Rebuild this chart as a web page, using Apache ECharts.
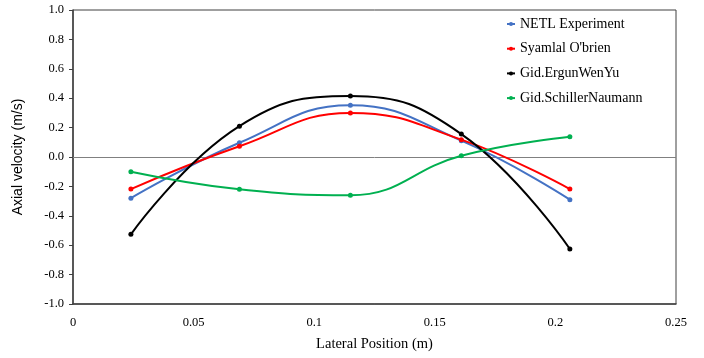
<!DOCTYPE html>
<html>
<head>
<meta charset="utf-8">
<script src="https://cdn.jsdelivr.net/npm/echarts@6/dist/echarts.min.js"></script>
<style>
  html, body { margin: 0; padding: 0; background: #fff; }
  #chart { width: 704px; height: 358px; }
</style>
</head>
<body>
<div id="chart"></div>
<script>
const positions = [0.024, 0.069, 0.115, 0.161, 0.206];
const netlExperiment = [-0.28, 0.097, 0.352, 0.111, -0.29];
const syamlalObrien = [-0.218, 0.073, 0.30, 0.118, -0.218];
const ergunWenYu = [-0.526, 0.21, 0.415, 0.156, -0.626];
const schillerNaumann = [-0.10, -0.22, -0.26, 0.009, 0.138];

const seriesNames = ['NETL Experiment', "Syamlal O'brien", 'Gid.ErgunWenYu', 'Gid.SchillerNaumann'];
const seriesValues = [netlExperiment, syamlalObrien, ergunWenYu, schillerNaumann];
const seriesColors = ['#4472c4', '#ff0000', '#000000', '#00b050'];

const serif = '"Liberation Serif", "DejaVu Serif", serif';

const chart = echarts.init(document.getElementById('chart'));

const series = seriesNames.map((name, i) => ({
  name,
  type: 'line',
  smooth: 0.45,
  data: positions.map((x, j) => [x, seriesValues[i][j]]),
  symbol: 'circle',
  symbolSize: 5,
  itemStyle: { color: seriesColors[i] },
  lineStyle: { width: 2, color: seriesColors[i] },
  z: 3 + i,
}));

// grey zero line across the plot
series[0].markLine = {
  silent: true,
  symbol: 'none',
  label: { show: false },
  lineStyle: { color: '#808080', width: 1, type: 'solid' },
  data: [{ yAxis: 0 }],
  z: 1,
};

chart.setOption({
  animation: false,
  grid: {
    left: 73,
    right: 28,
    top: 10,
    bottom: 54,
    show: true,
    borderColor: '#404040',
    borderWidth: 1,
  },
  legend: {
    data: seriesNames,
    orient: 'vertical',
    left: 501,
    top: 12,
    itemGap: 10.7,
    itemWidth: 8,
    itemHeight: 5,
    textStyle: { fontFamily: serif, fontSize: 14, color: '#000' },
  },
  xAxis: {
    type: 'value',
    min: 0,
    max: 0.25,
    interval: 0.05,
    name: 'Lateral Position (m)',
    nameLocation: 'middle',
    nameGap: 33,
    nameTextStyle: { fontFamily: serif, fontSize: 14.5, color: '#000' },
    axisLine: { onZero: false, lineStyle: { color: '#404040', width: 1.5 } },
    axisTick: { show: false },
    splitLine: { show: false },
    axisLabel: { fontFamily: serif, fontSize: 12.5, color: '#000', margin: 12 },
  },
  yAxis: {
    type: 'value',
    min: -1,
    max: 1,
    interval: 0.2,
    name: 'Axial velocity (m/s)',
    nameLocation: 'middle',
    nameGap: 48,
    nameTextStyle: { fontFamily: '"Liberation Sans", "DejaVu Sans", sans-serif', fontSize: 14, color: '#000' },
    axisLine: { show: true, lineStyle: { color: '#404040', width: 1.5 } },
    axisTick: { show: true, length: 4, lineStyle: { color: '#404040' } },
    splitLine: { show: false },
    axisLabel: {
      fontFamily: serif,
      fontSize: 12.5,
      color: '#000',
      margin: 9,
      formatter: (v) => v.toFixed(1),
    },
  },
  series,
});
</script>
</body>
</html>
